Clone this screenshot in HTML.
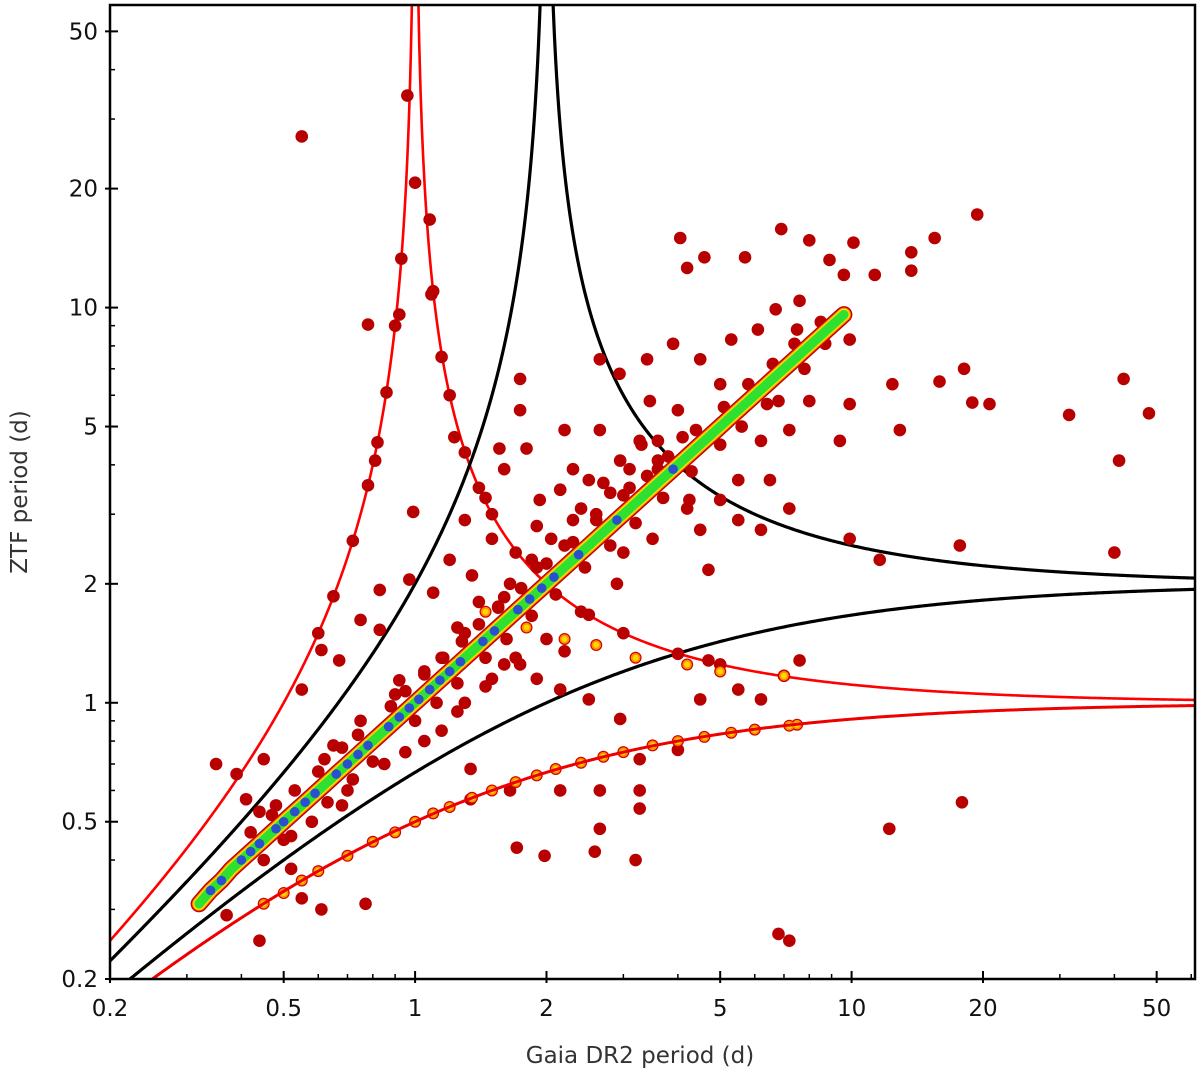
<!DOCTYPE html>
<html><head><meta charset="utf-8"><style>
html,body{margin:0;padding:0;background:#fff;}
svg{display:block;font-family:"DejaVu Sans","Liberation Sans",sans-serif;}
</style></head><body>
<svg id="chart" width="1200" height="1078" viewBox="0 0 1200 1078">
<defs><clipPath id="pc"><rect x="110" y="5" width="1085" height="974"/></clipPath></defs>
<g id="curves" clip-path="url(#pc)"></g>
<g id="points" clip-path="url(#pc)"></g>
<g id="axes"></g>
<text x="640" y="1063" text-anchor="middle" font-size="23" fill="#333">Gaia DR2 period (d)</text>
<text x="0" y="0" transform="translate(27,492) rotate(-90)" text-anchor="middle" font-size="23" fill="#333">ZTF period (d)</text>
</svg>
<script>
const xTicks=[0.2,0.5,1,2,5,10,20,50];
const xTickLabels=["0.2","0.5","1","2","5","10","20","50"];
const yTicks=[0.2,0.5,1,2,5,10,20,50];
const yTickLabels=["0.2","0.5","1","2","5","10","20","50"];
const aliasRed=1, aliasBlack=2;
const scatterGaia=[0.55,0.96,1.0,1.08,0.78,0.92,1.09,0.81,0.99,1.23,4.2,4.6,5.7,6.9,8.0,8.9,10.1,9.6,11.3,13.7,15.5,19.4,13.7,4.05,6.1,6.7,7.5,8.7,9.9,7.6,5.3,12.4,15.9,18.1,18.9,20.7,31.5,42,48,41,40,12.9,9.9,9.9,17.7,11.6,12.2,17.9,6.8,7.2,
1.74,1.74,1.56,2.2,2.65,2.94,3.4,3.9,3.45,4.0,4.5,5.0,2.65,2.95,2.15,1.93,2.5,3.27,3.6,4.25,5.0,5.5,6.5,6.2,7.2,8.0,6.8,9.4,4.5,5.5,6.2,7.2,4.7,
1.74,2.15,2.5,2.95,3.27,4.5,4.7,5.5,6.2,7.6,3.27,3.27,2.65,1.98,1.71,2.58,3.2,1.34,1.34,1.65,2.15,2.65,4.0,
0.35,0.39,0.41,0.44,0.45,0.55,0.67,0.61,0.75,0.83,0.97,0.83,0.92,0.55,0.61,0.77,0.52,0.44,0.37,
0.6,0.65,0.72,0.78,0.82,0.86,0.9,0.93,1.1,1.2,1.3,1.5,1.7,2.0,2.5,3.0,4.0,5.0,7.0,1.15,1.4,
1.3,1.45,1.6,1.8,2.3,1.2,1.5,1.9,2.4,2.8,3.1,3.6,1.4,1.65,1.85,2.05,2.3,1.25,1.55,3.0,3.5,4.2,1.1,1.35,2.7,3.3,
1.5,1.7,2.0,2.4,2.9,1.3,1.45,1.6,1.15,1.25,1.9,2.2,0.95,1.05,0.7,0.85,0.5,0.58,0.68,0.62,0.48,
0.42,0.47,0.53,0.6,0.68,0.74,0.88,0.95,1.05,1.16,1.28,1.4,1.55,1.75,2.0,2.3,2.6,3.0,3.4,3.8,4.4,5.1,5.8,6.6,7.4,8.5,
0.45,0.52,0.63,0.72,0.8,1.0,1.12,1.25,1.45,1.62,1.85,2.1,2.45,2.8,3.2,3.7,4.3,5.0,5.6,6.4,7.8,
0.65,0.75,0.9,1.05,1.15,1.3,1.6,1.9,2.2,2.6,3.1,3.6,4.1];
const scatterZtf=[27.1,34.4,20.7,16.7,9.06,9.6,10.8,4.1,3.04,4.7,12.6,13.4,13.4,15.8,14.8,13.2,14.6,12.1,12.1,13.8,15.0,17.2,12.4,15.0,8.8,9.9,8.8,8.1,8.3,10.4,8.3,6.4,6.5,7.0,5.75,5.7,5.35,6.6,5.4,4.1,2.4,4.9,5.7,2.6,2.5,2.3,0.48,0.56,0.26,0.25,
5.5,6.6,4.4,4.9,7.4,6.8,7.4,8.1,5.8,5.5,7.4,6.4,4.9,4.1,3.46,3.26,3.66,4.6,3.9,3.26,3.26,3.66,3.66,4.6,4.9,5.8,5.8,4.6,2.74,2.9,2.74,3.1,2.17,
1.25,1.08,1.02,0.91,0.72,1.02,1.28,1.08,1.02,1.28,0.60,0.54,0.48,0.41,0.43,0.42,0.40,0.68,0.57,0.60,0.60,0.60,0.76,
0.7,0.66,0.57,0.53,0.72,1.08,1.28,1.36,1.62,1.93,2.05,1.53,1.14,0.32,0.30,0.31,0.38,0.25,0.29,
1.5,1.86,2.57,3.55,4.56,6.1,9.0,13.3,11,6,4.3,3.0,2.4,2.0,1.67,1.5,1.33,1.25,1.17,7.5,3.5,
2.9,3.3,3.9,4.4,3.9,2.3,2.6,2.8,3.1,3.4,3.9,4.6,1.8,2.0,2.3,2.6,2.9,1.55,1.75,2.4,2.6,3.1,1.9,2.1,3.6,4.5,
1.15,1.3,1.45,1.7,2.0,1.0,1.1,1.25,0.85,0.95,1.15,1.35,0.75,0.8,0.6,0.7,0.45,0.5,0.55,0.72,0.55,
0.47,0.52,0.6,0.67,0.77,0.83,0.98,1.07,1.18,1.3,1.43,1.58,1.74,1.95,2.25,2.55,2.9,3.35,3.75,4.2,4.9,5.6,6.4,7.2,8.1,9.2,
0.4,0.46,0.56,0.64,0.71,0.9,1.0,1.12,1.3,1.45,1.66,1.88,2.2,2.5,2.85,3.3,3.85,4.5,5.0,5.7,7.0,
0.78,0.9,1.05,1.2,1.3,1.5,1.85,2.2,2.5,3.0,3.5,4.1,4.7];
const bandGaia=[0.5,0.6,0.7,0.8,0.9,1.0,1.1,1.2,1.35,1.5,1.7,1.9,2.1,2.4,2.7,3.0,3.5,4.0,4.6,5.3,6.0,7.2,7.5,0.45,0.55,1.45,1.6,1.8,2.2,2.6,3.2,4.2,5.0,7.0];
const bandZtf=[0.33,0.375,0.41,0.445,0.47,0.5,0.525,0.545,0.575,0.6,0.63,0.655,0.68,0.705,0.73,0.75,0.78,0.8,0.82,0.84,0.855,0.875,0.88,0.31,0.355,1.7,1.6,1.55,1.45,1.4,1.3,1.25,1.2,1.17];
const diagGaia=[0.32,0.34,0.36,0.38,0.40,0.42,0.44,0.46,0.48,0.50,0.53,0.56,0.59,0.62,0.66,0.70,0.74,0.78,0.82,0.87,0.92,0.97,1.02,1.08,1.14,1.2,1.27,1.35,1.43,1.52,1.62,1.72,1.83,1.95,2.08,2.22,2.37,2.53,2.7,2.9,3.1,3.35,3.6,3.9,4.2,4.5,4.9,5.3,5.8,6.3,6.9,7.5,8.2,9.0,9.6];
const diagZtf=[0.31,0.335,0.355,0.38,0.40,0.42,0.44,0.46,0.48,0.50,0.53,0.56,0.59,0.62,0.66,0.70,0.74,0.78,0.82,0.87,0.92,0.97,1.02,1.08,1.14,1.2,1.27,1.35,1.43,1.52,1.62,1.72,1.83,1.95,2.08,2.22,2.37,2.53,2.7,2.9,3.1,3.35,3.6,3.9,4.2,4.5,4.9,5.3,5.8,6.3,6.9,7.5,8.2,9.0,9.6];
const diagLevel=[2,3,3,2,3,3,3,2,3,3,3,3,3,2,3,3,3,3,2,3,3,3,3,3,3,3,3,2,3,3,2,3,3,3,3,2,3,2,2,3,2,2,2,3,2,2,2,2,1,2,1,2,1,1,1];

const NS='http://www.w3.org/2000/svg';
const X0=110,X1=1195,Y0=979,Y1=5;
const LX0=Math.log10(0.2),LX1=Math.log10(61.2),LY0=Math.log10(0.2),LY1=Math.log10(58.3);
function sx(v){return X0+(Math.log10(v)-LX0)/(LX1-LX0)*(X1-X0);}
function sy(v){return Y0-(Math.log10(v)-LY0)/(LY1-LY0)*(Y0-Y1);}
function mk(tag,attrs,parent){const e=document.createElementNS(NS,tag);for(const k in attrs)e.setAttribute(k,attrs[k]);parent.appendChild(e);return e;}

const cg=document.getElementById('curves');
const pg=document.getElementById('points');
function aliasPath(a,sign,lo,hi){
  let d='';const n=600;
  for(let i=0;i<=n;i++){
    const lg=Math.log10(lo)+(Math.log10(hi)-Math.log10(lo))*i/n;
    const p=Math.pow(10,lg);
    const inv=sign>0?(1/p+1/a):Math.abs(1/p-1/a);
    if(inv<=1e-4)continue;
    let z=1/inv; if(z>200)z=200;
    d+=(d?'L':'M')+sx(p).toFixed(2)+','+sy(z).toFixed(2);
  }
  return d;
}
function curve(g,a,sign,lo,hi,col,w,name){
  const p=mk('path',{d:aliasPath(a,sign,lo,hi),fill:'none',stroke:col,'stroke-width':w,'stroke-linecap':'round'},g);
  
  
}
curve(cg,aliasRed,-1,0.15,0.9995,'#ff0000',2.6,'red-upper-alias-left');
curve(cg,aliasRed,-1,1.0005,70,'#ff0000',2.6,'red-upper-alias-right');
curve(cg,aliasBlack,1,0.15,70,'#000',3.2,'black-lower-alias-curve');
curve(cg,aliasBlack,-1,0.15,1.999,'#000',3.2,'black-upper-alias-left');
curve(cg,aliasBlack,-1,2.001,70,'#000',3.2,'black-upper-alias-right');

const DR='#b80000';
for(let i=0;i<scatterGaia.length;i++){
  const c=mk('circle',{cx:sx(scatterGaia[i]),cy:sy(scatterZtf[i]),r:6.3,fill:DR},pg);
  
  
}
for(const [col,r] of [['#d00000',6],['#ff9000',4.8],['#ffd800',3]]){
  for(let i=0;i<bandGaia.length;i++){
    const c=mk('circle',{cx:sx(bandGaia[i]),cy:sy(bandZtf[i]),r:r,fill:col},pg);
    
    
  }
}
curve(pg,aliasRed,1,0.15,70,'#ee0000',3,'red-lower-alias-curve');
function diagPath(){let d='';for(let i=0;i<diagGaia.length;i++){d+=(i?'L':'M')+sx(diagGaia[i]).toFixed(1)+','+sy(diagZtf[i]).toFixed(1);}return d;}
for(const [col,w] of [['#c00000',17],['#ff8c00',14],['#ffe000',12],['#30e030',9.5]]){
  const p=mk('path',{d:diagPath(),fill:'none',stroke:col,'stroke-width':w,'stroke-linecap':'round','stroke-linejoin':'round'},pg);
  
  
}
for(let i=0;i<diagGaia.length;i++){
  if(diagLevel[i]<3)continue;
  const c=mk('circle',{cx:sx(diagGaia[i]),cy:sy(diagZtf[i]),r:4.8,fill:'#2a50d0'},pg);
  
  
}

const ag=document.getElementById('axes');
const fr=mk('rect',{x:X0,y:Y1,width:X1-X0,height:Y0-Y1,fill:'none',stroke:'#000','stroke-width':2.5},ag);


const minors=[];
for(let d=0.1;d<=100;d*=10){for(let k=2;k<=9;k++)minors.push(+(k*d).toPrecision(3));}
for(const v of minors){
  if(v>=0.2&&v<=61){const x=sx(v);const t=mk('line',{x1:x,x2:x,y1:Y0,y2:Y0-5,stroke:'#000','stroke-width':1.5},ag);
    }
  if(v>=0.2&&v<=58){const y=sy(v);const t=mk('line',{x1:X0,x2:X0+5,y1:y,y2:y,stroke:'#000','stroke-width':1.5},ag);
    }
}
xTicks.forEach((v,i)=>{
  const x=sx(v);
  const t=mk('line',{x1:x,x2:x,y1:Y0-8,y2:Y0+4,stroke:'#000','stroke-width':2},ag);
  
  const l=mk('text',{x:x,y:1016,'text-anchor':'middle','font-size':23,fill:'#111'},ag);
  l.textContent=xTickLabels[i];
  
});
yTicks.forEach((v,i)=>{
  const y=sy(v);
  const t=mk('line',{x1:X0-5,x2:X0+8,y1:y,y2:y,stroke:'#000','stroke-width':2},ag);
  
  const l=mk('text',{x:98,y:y+8,'text-anchor':'end','font-size':23,fill:'#111'},ag);
  l.textContent=yTickLabels[i];
  
});
</script>
</body></html>
